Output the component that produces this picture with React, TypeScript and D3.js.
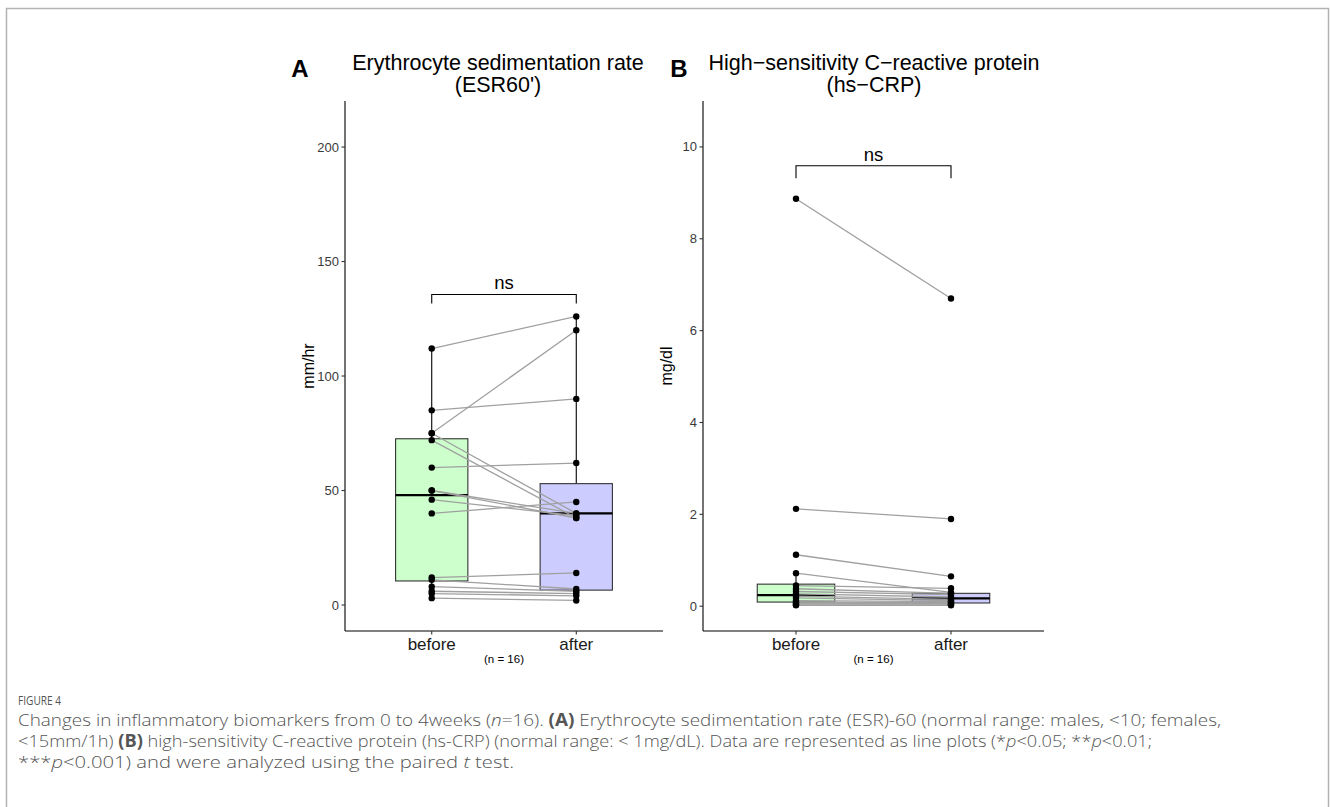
import React from "react";
import { scaleLinear, scalePoint } from "d3";

const groups = ["before", "after"];

// ESR60' (mm/hr), paired by index
const esrBefore = [112, 85, 75, 75, 72, 60, 50, 50, 46, 40, 12, 11, 8, 6, 5, 3];
const esrAfter = [126, 90, 120, 40, 38, 62, 40, 38, 39, 45, 14, 7, 6, 5, 4, 2];
// min, q1, median, q3, max as drawn
const esrBoxBefore = [3, 10.5, 48, 72.6, 112];
const esrBoxAfter = [2, 6.5, 40, 53, 126];
const esrTicks = [0, 50, 100, 150, 200];

// hs-CRP (mg/dl), paired by index
const crpBefore = [8.87, 2.12, 1.12, 0.72, 0.45, 0.38, 0.32, 0.27, 0.22, 0.18, 0.12, 0.09, 0.07, 0.05, 0.03, 0.02];
const crpAfter = [6.7, 1.9, 0.65, 0.3, 0.39, 0.28, 0.25, 0.2, 0.15, 0.12, 0.1, 0.08, 0.06, 0.05, 0.03, 0.02];
const crpBoxBefore = [0.02, 0.09, 0.24, 0.48, 0.72];
const crpBoxAfter = [0.02, 0.07, 0.17, 0.28, 0.39];
const crpTicks = [0, 2, 4, 6, 8, 10];

const fills = ["#ccffcc", "#ccccff"];
const chartFont = "'Liberation Sans', Arial, sans-serif";
const captionFont = "'Open Sans', 'Noto Sans', sans-serif";

type PanelProps = {
  letter: string;
  letterX: number;
  titleX: number;
  title: string[];
  yLabel: string;
  x0: number;
  x1: number;
  yDomain: number[];
  ticks: number[];
  before: number[];
  after: number[];
  boxes: number[][];
  bracket: number[]; // bar level, tick bottom
};

function Panel(p: PanelProps) {
  const top = 101;
  const bottom = 631;
  const x = scalePoint<string>().domain(groups).range([p.x0, p.x1]).padding(0.6);
  const y = scaleLinear().domain(p.yDomain).range([bottom, top]);
  const boxW = x.step() * 0.5;
  const cx = (p.x0 + p.x1) / 2;
  const xb = x("before")!;
  const xa = x("after")!;

  return (
    <g fontFamily={chartFont}>
      <text x={p.letterX} y={77} fontSize={24} fontWeight="bold" textAnchor="middle">
        {p.letter}
      </text>
      {p.title.map((t, i) => (
        <text key={i} x={p.titleX} y={70 + i * 22} fontSize={21.5} textAnchor="middle">
          {t}
        </text>
      ))}

      {/* boxes */}
      {p.boxes.map((b, i) => {
        const xc = x(groups[i])!;
        return (
          <g key={i}>
            <line x1={xc} x2={xc} y1={y(b[0])} y2={y(b[4])} stroke="#000" strokeWidth={1.1} />
            <rect
              x={xc - boxW / 2}
              y={y(b[3])}
              width={boxW}
              height={y(b[1]) - y(b[3])}
              fill={fills[i]}
              stroke="#333"
              strokeWidth={1.1}
            />
            <line x1={xc - boxW / 2} x2={xc + boxW / 2} y1={y(b[2])} y2={y(b[2])} stroke="#000" strokeWidth={2.2} />
          </g>
        );
      })}

      {/* paired lines */}
      {p.before.map((v, i) => (
        <line key={i} x1={xb} x2={xa} y1={y(v)} y2={y(p.after[i])} stroke="#a0a0a0" strokeWidth={1.3} />
      ))}
      {p.before.map((v, i) => (
        <circle key={"b" + i} cx={xb} cy={y(v)} r={3.2} fill="#000" />
      ))}
      {p.after.map((v, i) => (
        <circle key={"a" + i} cx={xa} cy={y(v)} r={3.2} fill="#000" />
      ))}

      {/* significance bracket */}
      <path
        d={`M${xb},${y(p.bracket[1])}V${y(p.bracket[0])}H${xa}V${y(p.bracket[1])}`}
        fill="none"
        stroke="#000"
        strokeWidth={1.1}
      />
      <text x={(xb + xa) / 2} y={y(p.bracket[0]) - 5} fontSize={18.5} textAnchor="middle">
        ns
      </text>

      {/* axes */}
      <line x1={p.x0} x2={p.x0} y1={top} y2={bottom} stroke="#000" strokeWidth={1.1} />
      <line x1={p.x0} x2={p.x1} y1={bottom} y2={bottom} stroke="#000" strokeWidth={1.1} />
      {p.ticks.map((t) => (
        <g key={t}>
          <line x1={p.x0 - 3.5} x2={p.x0} y1={y(t)} y2={y(t)} stroke="#333" strokeWidth={1.1} />
          <text x={p.x0 - 6} y={y(t)} dy="0.35em" fontSize={13} fill="#3a3a3a" textAnchor="end">
            {t}
          </text>
        </g>
      ))}
      {groups.map((g) => (
        <g key={g}>
          <line x1={x(g)} x2={x(g)} y1={bottom} y2={bottom + 3.5} stroke="#333" strokeWidth={1.1} />
          <text x={x(g)} y={650} fontSize={17} fill="#1a1a1a" textAnchor="middle">
            {g}
          </text>
        </g>
      ))}
      <text x={cx} y={663} fontSize={11.5} textAnchor="middle">
        (n = 16)
      </text>
      <text
        transform={`translate(${p.x0 - 31},${(top + bottom) / 2}) rotate(-90)`}
        fontSize={16}
        textAnchor="middle"
      >
        {p.yLabel}
      </text>
    </g>
  );
}

export default function App() {
  return (
    <svg
      width={1330}
      height={807}
      style={{ position: "absolute", left: 0, top: 0, background: "#fff" }}
    >
      <rect x={6.5} y={8.5} width={1322} height={820} fill="#fff" stroke="#b3b3b3" strokeWidth={1.5} />
      <Panel
        letter="A"
        letterX={300}
        titleX={498}
        title={["Erythrocyte sedimentation rate", "(ESR60')"]}
        yLabel="mm/hr"
        x0={345}
        x1={663}
        yDomain={[-11.35, 220.1]}
        ticks={esrTicks}
        before={esrBefore}
        after={esrAfter}
        boxes={[esrBoxBefore, esrBoxAfter]}
        bracket={[135.6, 131.7]}
      />
      <Panel
        letter="B"
        letterX={679}
        titleX={874}
        title={["High\u2212sensitivity C\u2212reactive protein", "(hs\u2212CRP)"]}
        yLabel="mg/dl"
        x0={703}
        x1={1044}
        yDomain={[-0.54, 11.0]}
        ticks={crpTicks}
        before={crpBefore}
        after={crpAfter}
        boxes={[crpBoxBefore, crpBoxAfter]}
        bracket={[9.59, 9.32]}
      />

      <g fontFamily={captionFont} fill="#555" fontWeight={300}>
        <text x={18} y={705} fontSize={12} fontWeight={400} textLength={43} lengthAdjust="spacingAndGlyphs">
          FIGURE 4
        </text>
        <text x={18} y={726} fontSize={17.2} textLength={1203} lengthAdjust="spacingAndGlyphs">
          Changes in inflammatory biomarkers from 0 to 4weeks (<tspan fontStyle="italic">n</tspan>=16).{" "}
          <tspan fontWeight="bold">(A)</tspan> Erythrocyte sedimentation rate (ESR)-60 (normal range: males, &lt;10;
          females,
        </text>
        <text x={18} y={747} fontSize={17.2} textLength={1134} lengthAdjust="spacingAndGlyphs">
          &lt;15mm/1h) <tspan fontWeight="bold">(B)</tspan> high-sensitivity C-reactive protein (hs-CRP) (normal range:
          &lt; 1mg/dL). Data are represented as line plots (*<tspan fontStyle="italic">p</tspan>&lt;0.05; **
          <tspan fontStyle="italic">p</tspan>&lt;0.01;
        </text>
        <text x={18} y={768} fontSize={17.2} textLength={496} lengthAdjust="spacingAndGlyphs">
          ***<tspan fontStyle="italic">p</tspan>&lt;0.001) and were analyzed using the paired{" "}
          <tspan fontStyle="italic">t</tspan> test.
        </text>
      </g>
    </svg>
  );
}
